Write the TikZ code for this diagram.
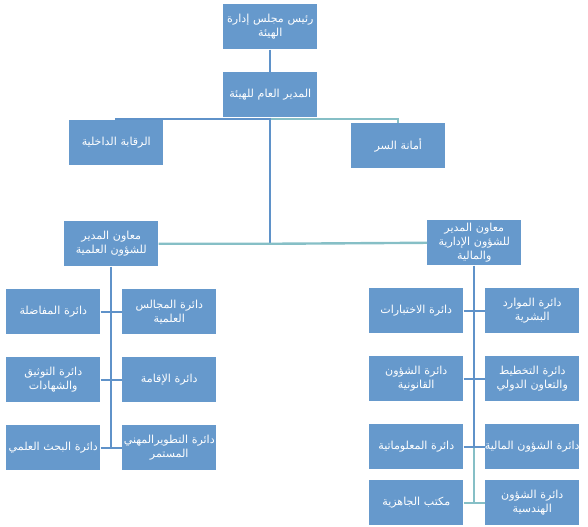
\documentclass[tikz,border=0pt]{standalone}
\usepackage{fontspec}
\newfontfamily\arabicfont[Script=Arabic]{DejaVu Sans}
\TeXXeTstate=1
\newcommand\RL[1]{\makebox[\linewidth]{\beginR #1\endR}}
\definecolor{boxblue}{HTML}{6699CC}
\definecolor{lineblue}{HTML}{5F92C9}
\definecolor{lineteal}{HTML}{86BFC6}
\begin{document}
\begin{tikzpicture}[x=0.75pt,y=-0.75pt,
  box/.style={fill=boxblue, draw=none, text=white, anchor=north west,
    text width=67.5pt, inner xsep=1.5pt, inner ysep=1pt,
    minimum height=33.75pt, align=center,
    font=\arabicfont\fontsize{8.3}{10.5}\selectfont},
  link/.style={draw=lineblue, line width=1.8pt},
  linkb/.style={draw=lineteal, line width=1.8pt}]
\useasboundingbox (0,0) rectangle (588,526);
% top levels
\node[box] (top) at (223,4) {\RL{رئيس مجلس إدارة}\\\RL{الهيئة}};
\node[box] (gm) at (223,72) {\RL{المدير العام للهيئة}};
\node[box] (rq) at (69,120) {\RL{الرقابة الداخلية}};
\node[box] (am) at (351,123) {\RL{أمانة السر}};
\node[box] (vL) at (64,221) {\RL{معاون المدير}\\\RL{للشؤون العلمية}};
\node[box] (vR) at (427,220) {\RL{معاون المدير}\\\RL{للشؤون الإدارية}\\\RL{والمالية}};
% left departments
\node[box] (L1a) at (122,289) {\RL{دائرة المجالس}\\\RL{العلمية}};
\node[box] (L1b) at (6,289) {\RL{دائرة المفاضلة}};
\node[box] (L2a) at (122,357) {\RL{دائرة الإقامة}};
\node[box] (L2b) at (6,357) {\RL{دائرة التوثيق}\\\RL{والشهادات}};
\node[box] (L3a) at (122,425) {\RL{دائرة التطويرالمهني}\\\RL{المستمر}};
\node[box] (L3b) at (6,425) {\RL{دائرة البحث العلمي}};
% right departments
\node[box] (R1a) at (485,288) {\RL{دائرة الموارد}\\\RL{البشرية}};
\node[box] (R1b) at (369,288) {\RL{دائرة الاختبارات}};
\node[box] (R2a) at (485,356) {\RL{دائرة التخطيط}\\\RL{والتعاون الدولي}};
\node[box] (R2b) at (369,356) {\RL{دائرة الشؤون}\\\RL{القانونية}};
\node[box] (R3a) at (485,424) {\RL{دائرة الشؤون المالية}};
\node[box] (R3b) at (369,424) {\RL{دائرة المعلوماتية}};
\node[box] (R4a) at (485,480) {\RL{دائرة الشؤون}\\\RL{الهندسية}};
\node[box] (R4b) at (369,480) {\RL{مكتب الجاهزية}};
% connectors
\coordinate (hy) at (270,119);
\draw[link] (top.south) -- (gm.north);
\draw[link] (rq.north) -- (rq.north |- hy) -- (hy);
\draw[linkb] (hy) -- (am.north |- hy) -- (am.north);
\draw[link] (gm.south) -- (gm.south |- vL.east);
\draw[linkb] (vL.east) -- (gm.south |- vL.east) -- (vR.west);
\draw[link] (vL.south) -- (vL.south |- L3a.west);
\draw[link] (L1b.east) -- (L1a.west);
\draw[link] (L2b.east) -- (L2a.west);
\draw[link] (L3b.east) -- (L3a.west);
\draw[link] (vR.south) -- (vR.south |- R3a.west);
\draw[linkb] (vR.south |- R3a.west) -- (vR.south |- R4a.west);
\draw[link] (R1b.east) -- (R1a.west);
\draw[link] (R2b.east) -- (R2a.west);
\draw[link] (R3b.east) -- (R3a.west);
\draw[linkb] (R4b.east) -- (R4a.west);
\end{tikzpicture}
\end{document}
